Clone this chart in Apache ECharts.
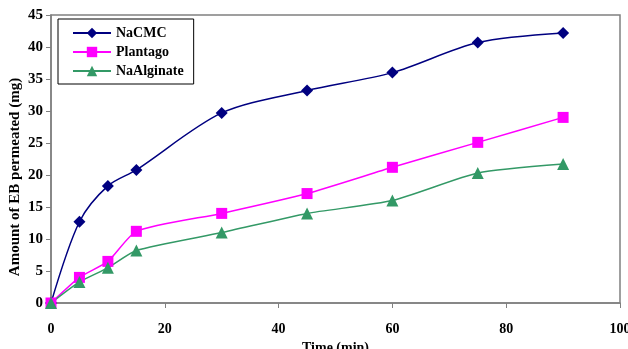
<!DOCTYPE html>
<html><head><meta charset="utf-8">
<script src="https://cdn.jsdelivr.net/npm/echarts@6/dist/echarts.min.js"></script>
<style>html,body{margin:0;padding:0;background:#fff}#c{width:628px;height:349px}</style>
</head><body><div id="c"></div>
<script>
const time = [0, 5, 10, 15, 30, 45, 60, 75, 90];
const naCMC = [0, 12.7, 18.3, 20.8, 29.7, 33.2, 36.0, 40.7, 42.2];
const plantago = [0, 4.0, 6.5, 11.2, 14.0, 17.1, 21.2, 25.1, 29.0];
const naAlginate = [0, 3.3, 5.5, 8.2, 11.0, 14.0, 16.0, 20.3, 21.7];
const seriesNames = ['NaCMC', 'Plantago', 'NaAlginate'];
const xTitle = 'Time (min)';
const yTitle = 'Amount of EB permeated (mg)';

const font = 'Liberation Serif, Times New Roman, serif';
const pair = arr => time.map((t, i) => [t, arr[i]]);
const chart = echarts.init(document.getElementById('c'));
chart.setOption({
  animation: false,
  grid: {left: 51, right: 8, top: 15, bottom: 46, show: true, borderColor: '#808080', borderWidth: 1.5,
         containLabel: false, outerBoundsMode: 'none'},
  legend: {
    orient: 'vertical', left: 58, top: 19, width: 135,
    borderColor: '#000', borderWidth: 1, padding: [7, 10, 6, 14],
    itemWidth: 38, itemHeight: 13, itemGap: 5,
    backgroundColor: '#fff',
    textStyle: {fontFamily: font, fontWeight: 'bold', fontSize: 14, color: '#000'},
    data: seriesNames
  },
  graphic: [{
    type: 'text', x: 15, y: 177, rotation: Math.PI / 2,
    style: {text: yTitle, fontFamily: font, fontWeight: 'bold', fontSize: 15, fill: '#000',
            align: 'center', verticalAlign: 'middle'}
  }],
  xAxis: {
    type: 'value', min: 0, max: 100, interval: 20,
    name: xTitle, nameLocation: 'middle', nameGap: 37,
    nameTextStyle: {fontFamily: font, fontWeight: 'bold', fontSize: 14, color: '#000'},
    axisLine: {lineStyle: {color: '#808080', width: 1.5}},
    axisTick: {show: true, length: 5, lineStyle: {color: '#808080'}},
    axisLabel: {fontFamily: font, fontWeight: 'bold', fontSize: 14, color: '#000', margin: 19},
    splitLine: {show: false}
  },
  yAxis: {
    type: 'value', min: 0, max: 45, interval: 5,
    axisLine: {show: true, lineStyle: {color: '#808080', width: 1.5}},
    axisTick: {show: true, length: 5, lineStyle: {color: '#808080'}},
    axisLabel: {fontFamily: font, fontWeight: 'bold', fontSize: 15, color: '#000', margin: 8},
    splitLine: {show: false}
  },
  series: [
    {name: seriesNames[0], type: 'line', data: pair(naCMC), smooth: 0.3,
     symbol: 'diamond', symbolSize: 12,
     itemStyle: {color: '#000080'}, lineStyle: {color: '#000080', width: 1.5}},
    {name: seriesNames[1], type: 'line', data: pair(plantago), smooth: 0.2,
     symbol: 'rect', symbolSize: 11,
     itemStyle: {color: '#FF00FF'}, lineStyle: {color: '#FF00FF', width: 1.5}},
    {name: seriesNames[2], type: 'line', data: pair(naAlginate), smooth: 0.2,
     symbol: 'triangle', symbolSize: 12,
     itemStyle: {color: '#339966'}, lineStyle: {color: '#339966', width: 1.5}}
  ]
});
</script></body></html>
